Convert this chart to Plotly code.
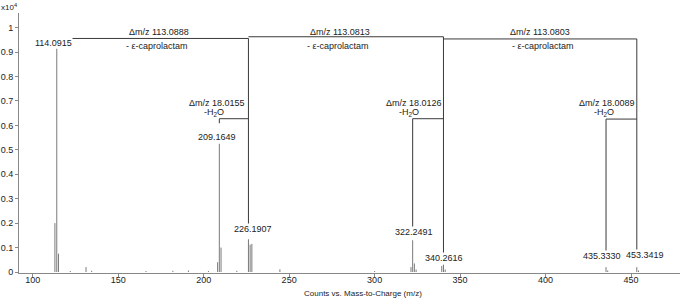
import plotly.graph_objects as go

# ---- data ----
peak_mz = [113.0, 114.0915, 115.09, 122.0, 131.2, 134.5, 166.3, 182.0, 191.1, 202.8,
           208.16, 209.1649, 210.17, 219.4, 226.1907, 227.19, 228.20, 244.6,
           300.0, 321.25, 322.2491, 323.25, 324.25, 339.26, 340.2616, 341.26,
           435.3330, 436.33, 453.3419, 454.34]
peak_int = [0.20, 0.915, 0.075, 0.004, 0.02, 0.005, 0.004, 0.005, 0.006, 0.004,
            0.04, 0.525, 0.10, 0.005, 0.134, 0.112, 0.115, 0.011,
            0.004, 0.02, 0.13, 0.035, 0.01, 0.025, 0.03, 0.01,
            0.02, 0.006, 0.02, 0.006]

label_text = ["114.0915", "209.1649", "226.1907", "322.2491", "340.2616", "435.3330", "453.3419"]
label_mz = [112.3, 207.8, 228.9, 322.9, 340.6, 433.0, 457.9]
label_y = [0.937, 0.553, 0.175, 0.165, 0.059, 0.065, 0.068]

loss_text = ["Δm/z 113.0888", "Δm/z 113.0813", "Δm/z 113.0803"]
loss_from = [121.2, 226.1907, 340.2616]
loss_to = [226.1907, 340.2616, 453.3419]
loss_level = [0.956, 0.963, 0.954]
loss_text_mz = [173.9, 279.7, 396.7]
loss_sub_mz = [172.7, 278.6, 398.5]

water_text = ["Δm/z 18.0155", "Δm/z 18.0126", "Δm/z 18.0089"]
water_from = [209.1649, 322.2491, 435.3330]
water_to = [226.1907, 340.2616, 453.3419]
water_level = [0.6275, 0.6275, 0.626]
water_text_mz = [207.8, 323.0, 435.9]
water_sub_mz = [206.0, 320.1, 434.1]

x_ticks = [100, 150, 200, 250, 300, 350, 400, 450]
y_ticks = [0, 0.1, 0.2, 0.3, 0.4, 0.5, 0.6, 0.7, 0.8, 0.9, 1]
y_tick_text = ["0", "0.1", "0.2", "0.3", "0.4", "0.5", "0.6", "0.7", "0.8", "0.9", "1"]

FONT = "Liberation Sans, Arial, sans-serif"
PEAK = "#7a7a7a"
BR = "#3a3a3a"

xs, ys = [], []
for m, h in zip(peak_mz, peak_int):
    xs += [m, m, None]
    ys += [0, h, None]

fig = go.Figure()
fig.add_trace(go.Scatter(x=xs, y=ys, mode="lines",
                         line=dict(color=PEAK, width=1), hoverinfo="skip",
                         showlegend=False))

shapes = []
annos = []
for i in range(3):
    shapes.append(dict(type="line", xref="x", yref="y", x0=loss_from[i], x1=loss_to[i],
                       y0=loss_level[i], y1=loss_level[i], line=dict(color=BR, width=1)))
    lbl_idx = label_text.index(f"{loss_to[i]:.4f}")
    shapes.append(dict(type="line", xref="x", yref="y", x0=loss_to[i], x1=loss_to[i],
                       y0=loss_level[i], y1=label_y[lbl_idx], line=dict(color=BR, width=1)))
    annos.append(dict(x=loss_text_mz[i], y=0.981, xref="x", yref="y", text=loss_text[i],
                      showarrow=False, font=dict(size=9, color="#222", family=FONT)))
    annos.append(dict(x=loss_sub_mz[i], y=0.926, xref="x", yref="y", text="- ε-caprolactam",
                      showarrow=False, font=dict(size=9, color="#222", family=FONT)))

for i in range(3):
    shapes.append(dict(type="line", xref="x", yref="y", x0=water_from[i], x1=water_to[i],
                       y0=water_level[i], y1=water_level[i], line=dict(color=BR, width=1)))
    lbl_idx = label_text.index(f"{water_from[i]:.4f}")
    y_end = 0.609 if i == 0 else label_y[lbl_idx]
    shapes.append(dict(type="line", xref="x", yref="y", x0=water_from[i], x1=water_from[i],
                       y0=water_level[i], y1=y_end, line=dict(color=BR, width=1)))
    annos.append(dict(x=water_text_mz[i], y=0.692, xref="x", yref="y", text=water_text[i],
                      showarrow=False, font=dict(size=9, color="#222", family=FONT)))
    annos.append(dict(x=water_sub_mz[i], y=0.652, xref="x", yref="y", text="-H<sub>2</sub>O",
                      showarrow=False, font=dict(size=9, color="#222", family=FONT)))

for t, m, yv in zip(label_text, label_mz, label_y):
    annos.append(dict(x=m, y=yv, xref="x", yref="y", text=t, showarrow=False,
                      bgcolor="white", borderpad=0,
                      font=dict(size=9, color="#222", family=FONT)))

annos.append(dict(x=0, y=1, xref="paper", yref="paper", xanchor="left", yanchor="top",
                  text="x10<sup>4</sup>", showarrow=False, xshift=-20, yshift=13,
                  font=dict(size=8, color="#222", family=FONT)))
annos.append(dict(x=(363.4 - 19) / (680 - 19), y=-(293 - 273) / (273 - 13),
                  xanchor="center", yanchor="middle",
                  xref="paper", yref="paper", text="Counts vs. Mass-to-Charge (m/z)",
                  showarrow=False, font=dict(size=8, color="#222", family=FONT)))

fig.update_layout(
    width=684, height=298,
    margin=dict(l=19, r=4, t=13, b=25, autoexpand=False),
    paper_bgcolor="white", plot_bgcolor="white",
    font=dict(family=FONT, size=9, color="#222"),
    shapes=shapes, annotations=annos,
    xaxis=dict(range=[92, 478.6], tickvals=x_ticks, ticks="outside", ticklen=3,
               tickcolor="#888", showline=True, linecolor="#888", linewidth=1,
               showgrid=False, zeroline=False, tickfont=dict(size=9), automargin=False,
               ticklabelstandoff=-5),
    yaxis=dict(range=[-0.0041, 1.0602], tickvals=y_ticks, ticktext=y_tick_text,
               ticks="outside", ticklen=3, tickcolor="#888", showline=True,
               linecolor="#888", linewidth=1, showgrid=False, zeroline=False,
               tickfont=dict(size=9), automargin=False),
)

fig.write_html("out.html", config={"displayModeBar": False},
               post_script="document.body.style.margin='0';document.body.style.overflow='hidden';")
